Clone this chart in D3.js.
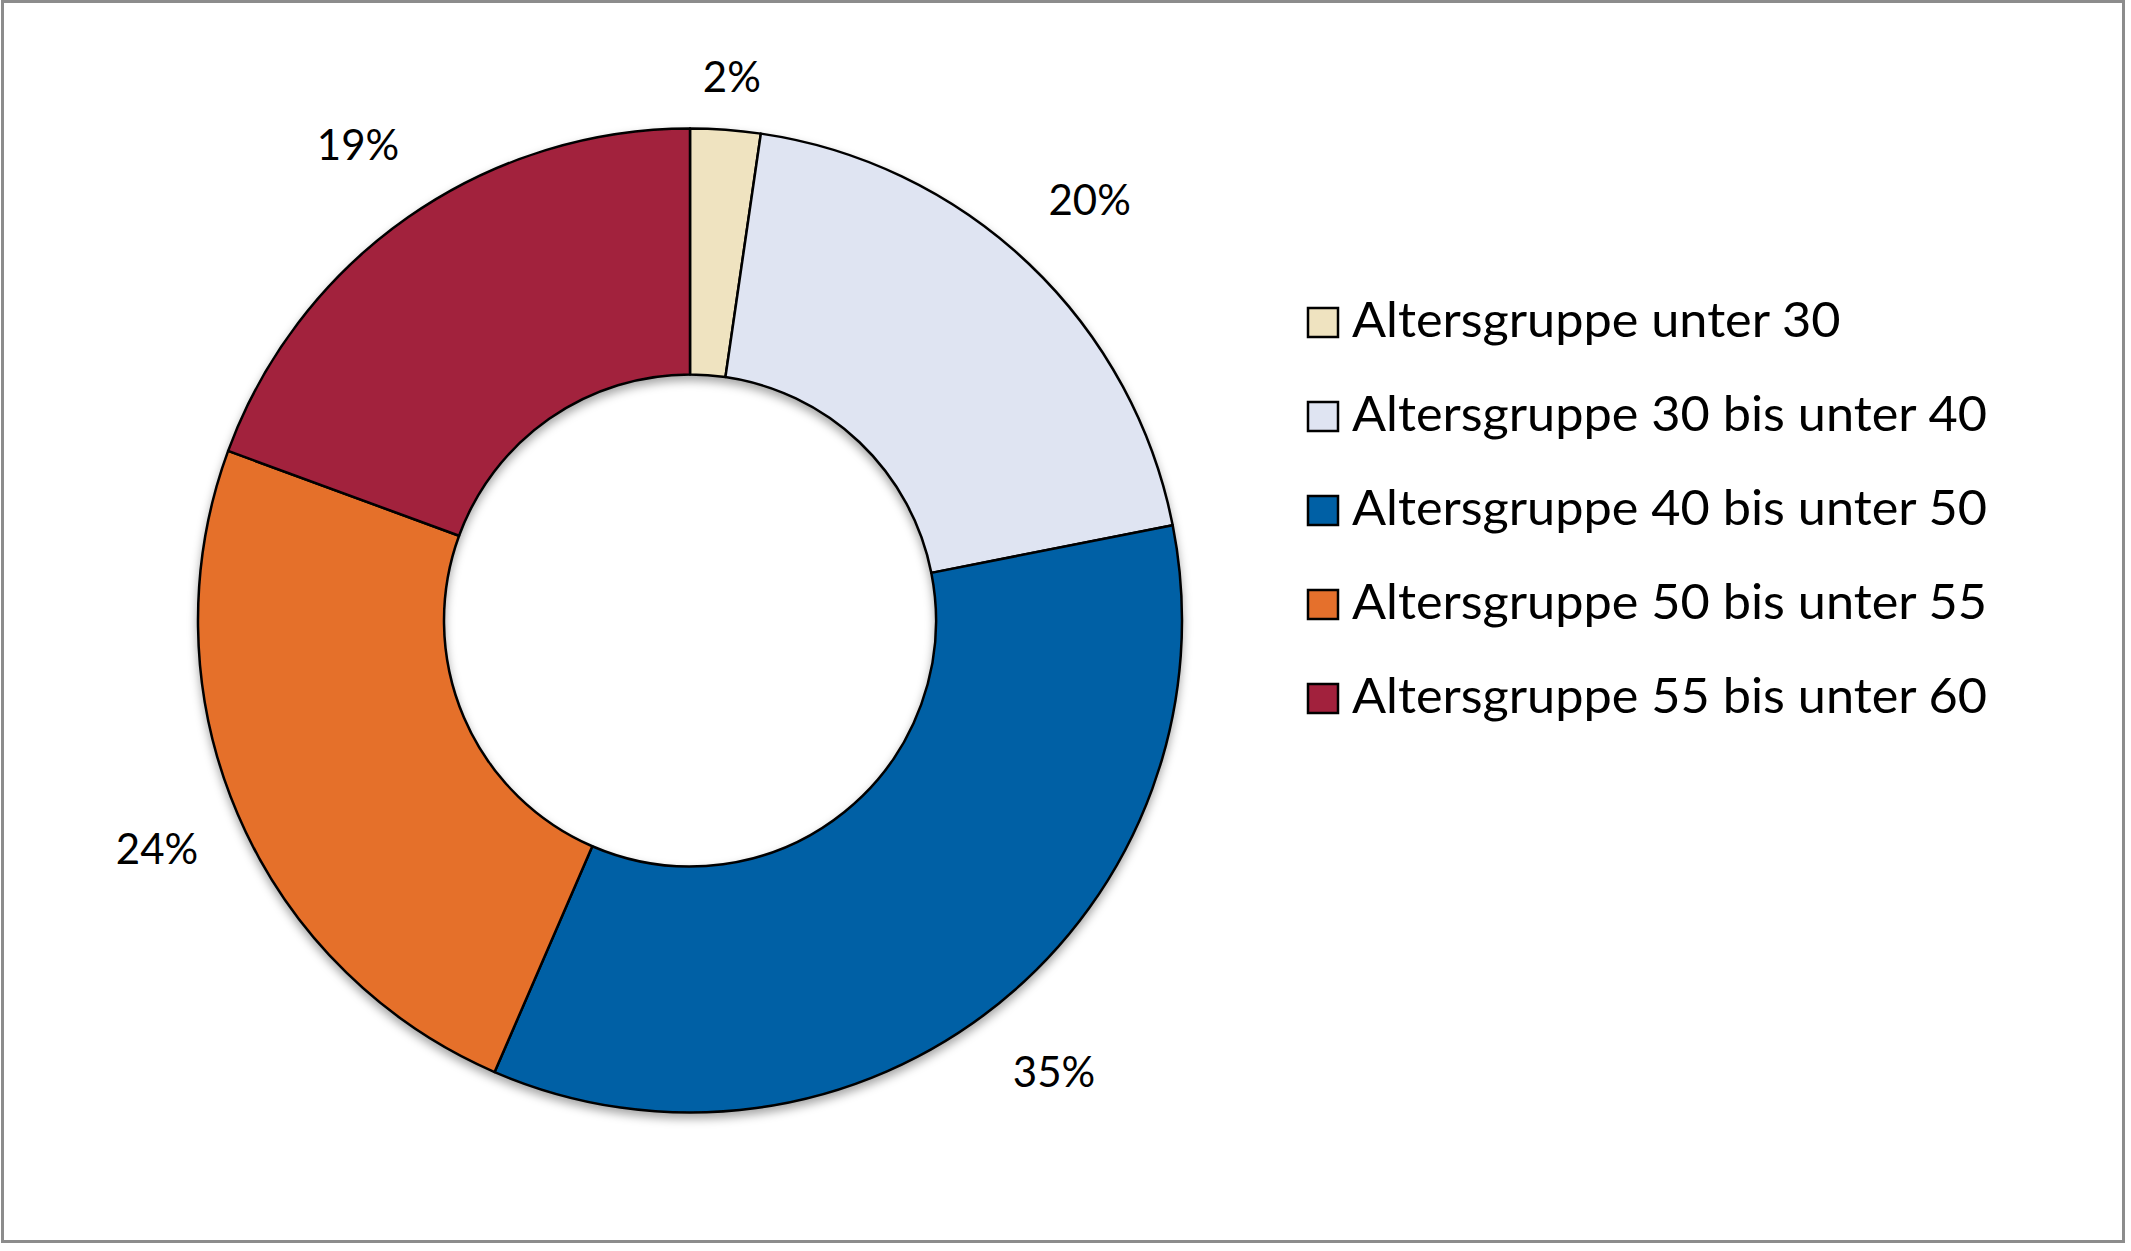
<!DOCTYPE html>
<html>
<head>
<meta charset="utf-8">
<script src="https://cdn.jsdelivr.net/npm/d3@7"></script>
<style>
  html, body { margin: 0; padding: 0; background: #ffffff; }
  svg { display: block; }
  text { font-family: Lato, "Open Sans", sans-serif; fill: #000; }
</style>
</head>
<body>
<svg id="chart" width="2131" height="1251"></svg>
<script>
// ---- data ----
const categories = [
  "Altersgruppe unter 30",
  "Altersgruppe 30 bis unter 40",
  "Altersgruppe 40 bis unter 50",
  "Altersgruppe 50 bis unter 55",
  "Altersgruppe 55 bis unter 60"
];
const values = [2.3, 19.6, 34.6, 24.1, 19.4];
const labels = ["2%", "20%", "35%", "24%", "19%"];
const colors = ["#EFE3C0", "#DFE4F2", "#0060A5", "#E5702C", "#A2213D"];

// ---- layout ----
const W = 2131, H = 1251;
const cx = 690, cy = 620.5;
const outerR = 492, innerR = 246;
const labelR = 580;
const labelMinY = 77;   // plot-area top: labels are kept inside it

const svg = d3.select("#chart");

const defs = svg.append("defs");
const f = defs.append("filter").attr("id", "shadow")
  .attr("x", "-10%").attr("y", "-10%").attr("width", "120%").attr("height", "125%");
f.append("feDropShadow").attr("dx", 0).attr("dy", 5).attr("stdDeviation", 5)
  .attr("flood-color", "#000").attr("flood-opacity", 0.35);

// frame
svg.append("rect")
  .attr("x", 2.5).attr("y", 1.5).attr("width", W - 10).attr("height", H - 11)
  .attr("fill", "#fff").attr("stroke", "#8c8c8c").attr("stroke-width", 3);

const pie = d3.pie().sort(null).value(d => d);
const arcs = pie(values);
const arc = d3.arc().innerRadius(innerR).outerRadius(outerR);
const labelArc = d3.arc().innerRadius(labelR).outerRadius(labelR);

const g = svg.append("g").attr("transform", `translate(${cx},${cy})`);

g.append("g").attr("filter", "url(#shadow)")
  .selectAll("path")
  .data(arcs)
  .join("path")
  .attr("d", arc)
  .attr("fill", (d, i) => colors[i])
  .attr("stroke", "#000")
  .attr("stroke-width", 2.5)
  .attr("stroke-linejoin", "round");

g.selectAll("text.lbl")
  .data(arcs)
  .join("text")
  .attr("class", "lbl")
  .attr("transform", d => {
    const [x, y] = labelArc.centroid(d);
    return `translate(${x},${Math.max(y, labelMinY - cy)})`;
  })
  .attr("text-anchor", "middle")
  .attr("dy", "0.36em")
  .style("font-size", "42px")
  .text((d, i) => labels[i]);

// legend
const legend = svg.append("g").attr("transform", "translate(1307,337)");
const rowH = 94;
const rows = legend.selectAll("g")
  .data(categories)
  .join("g")
  .attr("transform", (d, i) => `translate(0,${i * rowH})`);

rows.append("rect")
  .attr("x", 1).attr("y", -29).attr("width", 30).attr("height", 29)
  .attr("fill", (d, i) => colors[i])
  .attr("stroke", "#000").attr("stroke-width", 2.5);

rows.append("text")
  .attr("x", 45).attr("y", 0)
  .style("font-size", "48px")
  .text(d => d);

// fit legend text width to reference (longest row ~635px)
const texts = rows.selectAll("text").nodes();
const refW = d3.max(texts, n => n.getComputedTextLength());
const k = 635 / refW;
texts.forEach(n => {
  const w = n.getComputedTextLength();
  n.setAttribute("textLength", w * k);
  n.setAttribute("lengthAdjust", "spacingAndGlyphs");
});
</script>
</body>
</html>
